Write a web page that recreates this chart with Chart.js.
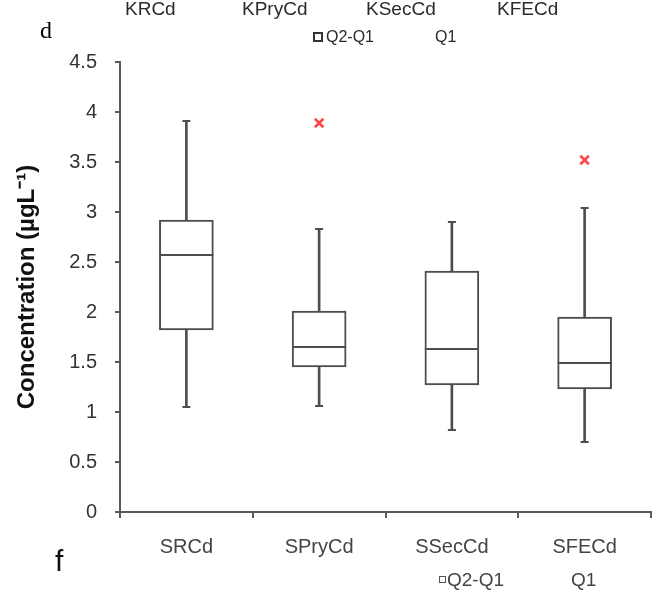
<!DOCTYPE html>
<html>
<head>
<meta charset="utf-8">
<script src="https://cdn.jsdelivr.net/npm/chart.js@4.4.1/dist/chart.umd.min.js"></script>
<style>
  body { margin: 0; background: #fff; }
  #wrap { position: relative; width: 663px; height: 593px; }
  .lbl { position: absolute; font-family: "Liberation Sans", Arial, sans-serif; color: #2a2a2a; line-height: 1; white-space: nowrap; }
  .sq { position: absolute; border: 2px solid #333; background: #fff; box-sizing: border-box; }
</style>
</head>
<body>
<div id="wrap">
  <canvas id="box_chart"></canvas>
  <div class="lbl" style="left:40px;top:18px;font-family:'Liberation Serif','Times New Roman',serif;font-size:24px;color:#000;">d</div>
  <div class="lbl" style="left:125px;top:-1px;font-size:19px;">KRCd</div>
  <div class="lbl" style="left:242px;top:-1px;font-size:19px;">KPryCd</div>
  <div class="lbl" style="left:366px;top:-1px;font-size:19px;">KSecCd</div>
  <div class="lbl" style="left:497px;top:-1px;font-size:19px;">KFECd</div>
  <div class="sq" style="left:313px;top:32px;width:10px;height:10px;"></div>
  <div class="lbl" style="left:326px;top:29px;font-size:16px;">Q2-Q1</div>
  <div class="lbl" style="left:435px;top:29px;font-size:16px;">Q1</div>
  <div class="lbl" style="left:55px;top:546px;font-size:30px;color:#111;">f</div>
  <div class="sq" style="left:439px;top:576px;width:7px;height:7px;border-width:1px;border-color:#555;"></div>
  <div class="lbl" style="left:447px;top:570px;font-size:19px;color:#444;">Q2-Q1</div>
  <div class="lbl" style="left:571px;top:570px;font-size:19px;color:#444;">Q1</div>
</div>
<script>
// datos
const categorias = ["SRCd", "SPryCd", "SSecCd", "SFECd"];
const minimos  = [1.05, 1.06, 0.82, 0.70];
const q1       = [1.82, 1.45, 1.27, 1.23];
const medianas = [2.57, 1.65, 1.63, 1.49];
const q3       = [2.92, 2.01, 2.41, 1.95];
const maximos  = [3.91, 2.83, 2.90, 3.04];
const atipicos = [null, 3.89, null, 3.52];

const gris = "#4d4d4d";
const fuente = "'Liberation Sans', Arial, sans-serif";

const bigotes = categorias.map((c, i) => [minimos[i], maximos[i]]);
const cajas = categorias.map((c, i) => [q1[i], q3[i]]);

const ctx = document.getElementById("box_chart").getContext("2d");
const chart = new Chart(ctx, {
  type: "bar",
  data: {
    labels: categorias,
    datasets: [
      {
        label: "bigotes",
        data: bigotes,
        backgroundColor: gris,
        barThickness: 2,
        grouped: false,
        order: 3
      },
      {
        label: "cajas",
        data: cajas,
        backgroundColor: "#ffffff",
        borderColor: gris,
        borderWidth: 2,
        borderSkipped: false,
        barThickness: 54,
        grouped: false,
        order: 2
      },
      {
        type: "line",
        label: "mediana",
        data: medianas,
        showLine: false,
        pointStyle: "line",
        pointRadius: 27,
        pointHoverRadius: 27,
        borderColor: gris,
        pointBorderWidth: 2,
        order: 1
      },
      {
        type: "line",
        label: "max",
        data: maximos,
        showLine: false,
        pointStyle: "line",
        pointRadius: 4,
        pointHoverRadius: 4,
        borderColor: gris,
        pointBorderWidth: 2,
        order: 1
      },
      {
        type: "line",
        label: "min",
        data: minimos,
        showLine: false,
        pointStyle: "line",
        pointRadius: 4,
        pointHoverRadius: 4,
        borderColor: gris,
        pointBorderWidth: 2,
        order: 1
      },
      {
        type: "line",
        label: "atipicos",
        data: atipicos,
        showLine: false,
        pointStyle: "crossRot",
        pointRadius: 6,
        pointHoverRadius: 6,
        borderColor: "#ff4545",
        pointBorderWidth: 2.5,
        order: 0
      }
    ]
  },
  options: {
    responsive: true,
    maintainAspectRatio: false,
    animation: false,
    events: [],
    layout: { autoPadding: false, padding: { top: 62, right: 12, left: 0, bottom: 0 } },
    plugins: {
      legend: { display: false },
      tooltip: { enabled: false }
    },
    scales: {
      x: {
        afterFit: (scale) => {
          scale.height = 81;
          scale.paddingLeft = 0;
          scale.paddingRight = 0;
        },
        border: { display: true, color: "#5a5a5a", width: 2 },
        grid: { drawOnChartArea: false, tickLength: 6, color: "#5a5a5a", lineWidth: 2 },
        ticks: { color: "#444", padding: 17, font: { family: fuente, size: 20 } }
      },
      y: {
        min: 0,
        max: 4.5,
        afterFit: (scale) => { scale.width = 120; },
        border: { display: true, color: "#5a5a5a", width: 2 },
        grid: { drawOnChartArea: false, tickLength: 5, color: "#5a5a5a", lineWidth: 2 },
        ticks: {
          stepSize: 0.5,
          color: "#333",
          padding: 18,
          font: { family: fuente, size: 20 },
          callback: (v) => String(v)
        },
        title: {
          display: true,
          text: "Concentration (µgL⁻¹)",
          color: "#111",
          font: { family: fuente, size: 24, weight: "bold" },
          padding: { top: 13, bottom: 0 }
        }
      }
    }
  }
});
</script>
</body>
</html>
